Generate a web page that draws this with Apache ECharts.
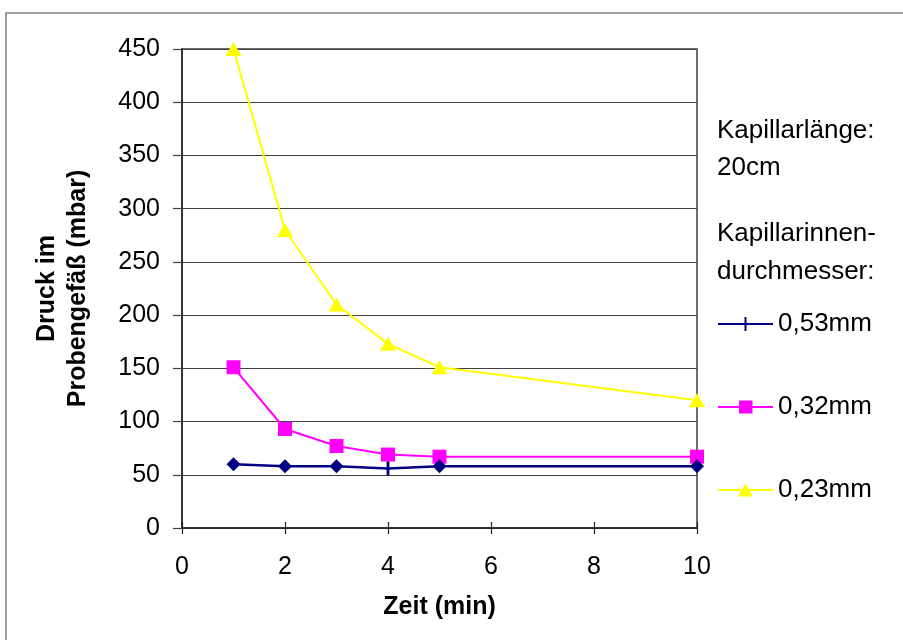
<!DOCTYPE html>
<html>
<head>
<meta charset="utf-8">
<script src="https://cdn.jsdelivr.net/npm/echarts@6/dist/echarts.min.js"></script>
<style>
  html, body { margin: 0; padding: 0; background: #fff; }
  #druck-chart-container { width: 903px; height: 640px; }
</style>
</head>
<body>
<div id="druck-chart-container"></div>
<script>
// Zeit (min) der Messpunkte
const zeit = [1, 2, 3, 4, 5, 10];
// Druck im Probengefäß (mbar) je Kapillarinnendurchmesser
const druck053 = [60, 58, 58, 56, 58, 58];
const druck032 = [151, 93, 77, 69, 67, 67];
const druck023 = [450, 280, 210, 173, 151, 120];
const seriesNames = ["0,53mm", "0,32mm", "0,23mm"];
const xTicks = [0, 10, 2]; // min, max, interval
const yTicks = [0, 450, 50];

const font = "Liberation Sans";
const colors = ["#000080", "#ff00ff", "#ffff00"];

// kleiner senkrechter Strich als Marker (Bounding-Box quadratisch)
const tickSymbol = "path://M0,0h0.1v0.1h-0.1z M4,0h2v10h-2z M9.9,9.9h0.1v0.1h-0.1z";

function pairs(ys) {
  return zeit.map((x, i) => [x, ys[i]]);
}

// 0,53mm: Rauten, beim 4. Punkt der Strich-Marker
const data053 = pairs(druck053).map((p, i) =>
  i === 3 ? { value: p } : { value: p, symbol: "diamond", symbolSize: 14 }
);

const option = {
  backgroundColor: "#fff",
  animation: false,
  color: colors,
  textStyle: { fontFamily: font },
  grid: {
    left: 182,
    top: 49,
    width: 515,
    height: 479,
    containLabel: false,
    outerBoundsMode: "none",
    show: true,
    borderColor: "#404040",
    borderWidth: 1.5,
  },
  legend: {
    orient: "vertical",
    left: 713,
    top: 306,
    itemWidth: 55,
    itemHeight: 14,
    itemGap: 57,
    textStyle: { fontFamily: font, fontSize: 26, color: "#000" },
    data: [
      { name: seriesNames[0], icon: "path://M0,6h55v2h-55z M26.5,0h2v14h-2z" },
      { name: seriesNames[1], icon: "path://M0,6h55v2h-55z M21,0.5h13.5v13h-13.5z" },
      { name: seriesNames[2], icon: "path://M0,6h55v2h-55z M27.5,0.5l7.5,13h-15z" },
    ],
  },
  graphic: [
    {
      type: "rect",
      shape: { x: 6, y: 13, width: 1000, height: 1000 },
      style: { fill: "none", stroke: "#808080", lineWidth: 1.5 },
      silent: true,
    },
    {
      type: "text",
      left: 717,
      top: 112,
      style: {
        text: "Kapillarlänge:\n20cm",
        font: "26px 'Liberation Sans'",
        fill: "#000",
        lineHeight: 37,
      },
    },
    {
      type: "text",
      left: 717,
      top: 215,
      style: {
        text: "Kapillarinnen-\ndurchmesser:",
        font: "26px 'Liberation Sans'",
        fill: "#000",
        lineHeight: 38,
      },
    },
  ],
  xAxis: [
    {
      type: "value",
      min: xTicks[0],
      max: xTicks[1],
      interval: xTicks[2],
      position: "bottom",
      name: "Zeit (min)",
      nameLocation: "middle",
      nameGap: 67,
      nameTextStyle: { fontFamily: font, fontSize: 25, fontWeight: "bold", color: "#000" },
      axisLine: { show: true, lineStyle: { color: "#222", width: 1.5 } },
      axisTick: { show: true, length: 6, lineStyle: { color: "#222", width: 1.2 } },
      axisLabel: { fontFamily: font, fontSize: 25, color: "#000", margin: 27 },
      splitLine: { show: false },
    },
    {
      // zweite Achse nur für die nach innen ragenden Teilstriche
      type: "value",
      min: xTicks[0],
      max: xTicks[1],
      interval: xTicks[2],
      position: "bottom",
      offset: 0,
      axisLine: { show: false },
      axisTick: { show: true, inside: true, length: 6, lineStyle: { color: "#222", width: 1.2 } },
      axisLabel: { show: false },
      splitLine: { show: false },
    },
  ],
  yAxis: {
    type: "value",
    min: yTicks[0],
    max: yTicks[1],
    interval: yTicks[2],
    name: "Druck im\nProbengefäß (mbar)",
    nameLocation: "middle",
    nameRotate: 90,
    nameGap: 88,
    nameTextStyle: {
      fontFamily: font,
      fontSize: 25,
      fontWeight: "bold",
      color: "#000",
      lineHeight: 31,
    },
    axisLine: { show: true, lineStyle: { color: "#222", width: 1.5 } },
    axisTick: { show: true, length: 9, lineStyle: { color: "#404040", width: 1.2 } },
    axisLabel: { fontFamily: font, fontSize: 25, color: "#000", margin: 22 },
    splitLine: { show: true, lineStyle: { color: "#404040", width: 1.2 } },
  },
  series: [
    {
      name: seriesNames[0],
      type: "line",
      data: data053,
      symbol: tickSymbol,
      symbolSize: 14,
      lineStyle: { color: colors[0], width: 2.5 },
      itemStyle: { color: colors[0] },
      z: 4,
    },
    {
      name: seriesNames[1],
      type: "line",
      data: pairs(druck032),
      symbol: "rect",
      symbolSize: 14,
      lineStyle: { color: colors[1], width: 2 },
      itemStyle: { color: colors[1] },
      z: 3,
    },
    {
      name: seriesNames[2],
      type: "line",
      data: pairs(druck023),
      symbol: "triangle",
      symbolSize: [16, 14],
      lineStyle: { color: colors[2], width: 2 },
      itemStyle: { color: colors[2] },
      z: 2,
    },
  ],
};

let myChart = echarts.init(document.getElementById("druck-chart-container"));
myChart.setOption(option);
</script>
</body>
</html>
